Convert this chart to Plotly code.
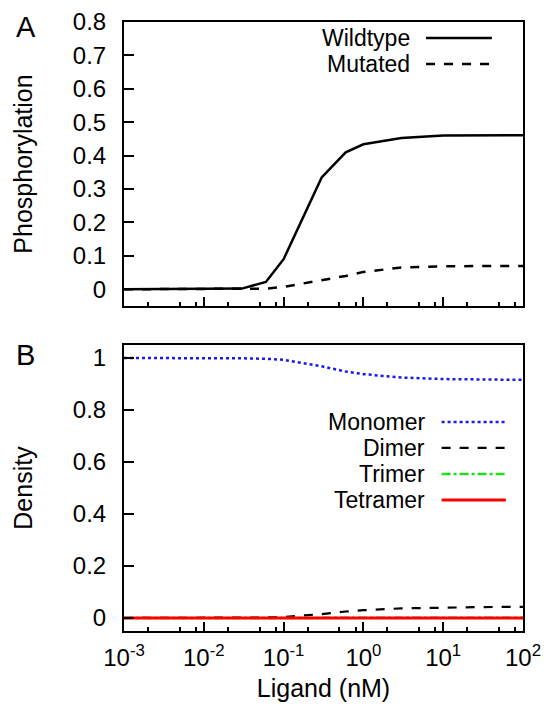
import plotly.graph_objects as go

# ---------------- data ----------------
ligand = [0.001, 0.003, 0.01, 0.03, 0.06, 0.1, 0.3, 0.6, 1, 3, 10, 30, 100]

wildtype = [0.0, 0.0, 0.0, 0.002, 0.022, 0.09, 0.335, 0.41, 0.434, 0.453, 0.46, 0.461, 0.461]
mutated = [0.0, 0.0, 0.0, 0.0, 0.002, 0.007, 0.027, 0.04, 0.052, 0.065, 0.069, 0.07, 0.07]

monomer = [1.0, 1.0, 1.0, 0.999, 0.997, 0.993, 0.968, 0.948, 0.938, 0.925, 0.919, 0.917, 0.916]
dimer = [0.0, 0.0, 0.0, 0.001, 0.002, 0.004, 0.015, 0.025, 0.03, 0.037, 0.041, 0.042, 0.043]
trimer = [0.0, 0.0, 0.0, 0.0, 0.0, 0.0, 0.001, 0.001, 0.001, 0.001, 0.001, 0.001, 0.001]
tetramer = [0.0, 0.0, 0.0, 0.0, 0.0, 0.0, 0.0, 0.0, 0.0, 0.0, 0.0, 0.0, 0.0]

x_tickvals = [1e-3, 1e-2, 1e-1, 1, 10, 100]
x_ticktext = ["10<sup>-3</sup>", "10<sup>-2</sup>", "10<sup>-1</sup>",
              "10<sup>0</sup>", "10<sup>1</sup>", "10<sup>2</sup>"]
x_minor_vals = [m * 10 ** e for e in range(-3, 2) for m in (2, 5, 8)]

top_yticks = [0, 0.1, 0.2, 0.3, 0.4, 0.5, 0.6, 0.7, 0.8]
top_yticktext = ["0", "0.1", "0.2", "0.3", "0.4", "0.5", "0.6", "0.7", "0.8"]
bot_yticks = [0, 0.2, 0.4, 0.6, 0.8, 1.0]
bot_yticktext = ["0", "0.2", "0.4", "0.6", "0.8", "1"]

top_series = [
    ("Wildtype", wildtype, "black", "solid", 2.5),
    ("Mutated", mutated, "black", "dash", 2.5),
]
bot_series = [
    ("Monomer", monomer, "#1a1ae6", "dot", 2.5),
    ("Dimer", dimer, "black", "dash", 2.2),
    ("Trimer", trimer, "#22dd22", "dashdot", 2.5),
    ("Tetramer", tetramer, "#ff0000", "solid", 3.2),
]

FONT = "Liberation Sans, Arial, Helvetica, sans-serif"
FS = 25
TICK_FS = 24
LEG_FS = 23

fig = go.Figure()

for name, ys, col, dash, w in top_series:
    fig.add_trace(go.Scatter(x=ligand, y=ys, mode="lines", name=name,
                             line=dict(color=col, dash=dash, width=w),
                             xaxis="x", yaxis="y", showlegend=False))
for name, ys, col, dash, w in bot_series:
    fig.add_trace(go.Scatter(x=ligand, y=ys, mode="lines", name=name,
                             line=dict(color=col, dash=dash, width=w),
                             xaxis="x2", yaxis="y2", showlegend=False))

common_x = dict(type="log", range=[-3, 2], tickmode="array", tickvals=x_tickvals,
                ticks="inside", ticklen=9, tickwidth=1.5, tickcolor="black",
                showline=True, linewidth=2, linecolor="black", mirror=True,
                showgrid=False, zeroline=False, automargin=False,
                ticklabeloverflow="allow",
                minor=dict(tickmode="array", tickvals=x_minor_vals, ticks="inside",
                           ticklen=4, tickwidth=1.5, tickcolor="black", showgrid=False))
common_y = dict(ticks="inside", ticklen=10, tickwidth=1.5, tickcolor="black",
                showline=True, linewidth=2, linecolor="black", mirror=True,
                showgrid=False, zeroline=False, tickmode="array", automargin=False,
                ticklabelstandoff=11, ticklabeloverflow="allow",
                tickfont=dict(size=TICK_FS, color="black"))

# the page body keeps its default 8px margin, so the figure is 8px smaller
fig.update_layout(
    template="none",
    width=544, height=711,
    margin=dict(l=116, r=29, t=14, b=88, autoexpand=False),
    paper_bgcolor="white", plot_bgcolor="white",
    font=dict(family=FONT, size=FS, color="black"),
    showlegend=False,
    xaxis=dict(common_x, domain=[0, 1], anchor="y", showticklabels=False),
    yaxis=dict(common_y, domain=[0.5337, 1], anchor="x", range=[-0.05, 0.8],
               tickvals=top_yticks, ticktext=top_yticktext,
               title=dict(text="Phosphorylation", standoff=33, font=dict(size=FS))),
    xaxis2=dict(common_x, domain=[0, 1], anchor="y2", ticktext=x_ticktext,
                tickfont=dict(size=TICK_FS, color="black"), ticklabelstandoff=4,
                title=dict(text="Ligand (nM)", standoff=10, font=dict(size=FS))),
    yaxis2=dict(common_y, domain=[0, 0.4696], anchor="x2", range=[-0.05, 1.05],
                tickvals=bot_yticks, ticktext=bot_yticktext,
                title=dict(text="Density", standoff=33, font=dict(size=FS))),
)

# manual legends (text right-aligned, line sample to the right)
def add_legend(entries, xref, yref, text_x, line_x0, line_x1, ys, fsize):
    for (name, _, col, dash, w), yy in zip(entries, ys):
        fig.add_annotation(x=text_x, y=yy, xref=xref, yref=yref, text=name,
                           showarrow=False, xanchor="right", yanchor="middle",
                           borderpad=0,
                           font=dict(size=fsize, color="black", family=FONT))
        fig.add_shape(type="line", xref=xref, yref=yref, x0=line_x0, x1=line_x1,
                      y0=yy, y1=yy, line=dict(color=col, dash=dash, width=w))

add_legend(top_series, "x domain", "y domain", 0.72, 0.757, 0.922, [0.944, 0.852], LEG_FS)
add_legend(bot_series, "x2 domain", "y2 domain", 0.757, 0.796, 0.957,
           [0.731, 0.640, 0.549, 0.458], LEG_FS)

# panel labels
fig.add_annotation(x=-0.246, y=0.9918, xref="paper", yref="paper", text="A",
                   showarrow=False, xanchor="center", yanchor="middle",
                   font=dict(size=29, color="black", family=FONT))
fig.add_annotation(x=-0.246, y=0.4532, xref="paper", yref="paper", text="B",
                   showarrow=False, xanchor="center", yanchor="middle",
                   font=dict(size=29, color="black", family=FONT))

fig.write_html("out.html")
